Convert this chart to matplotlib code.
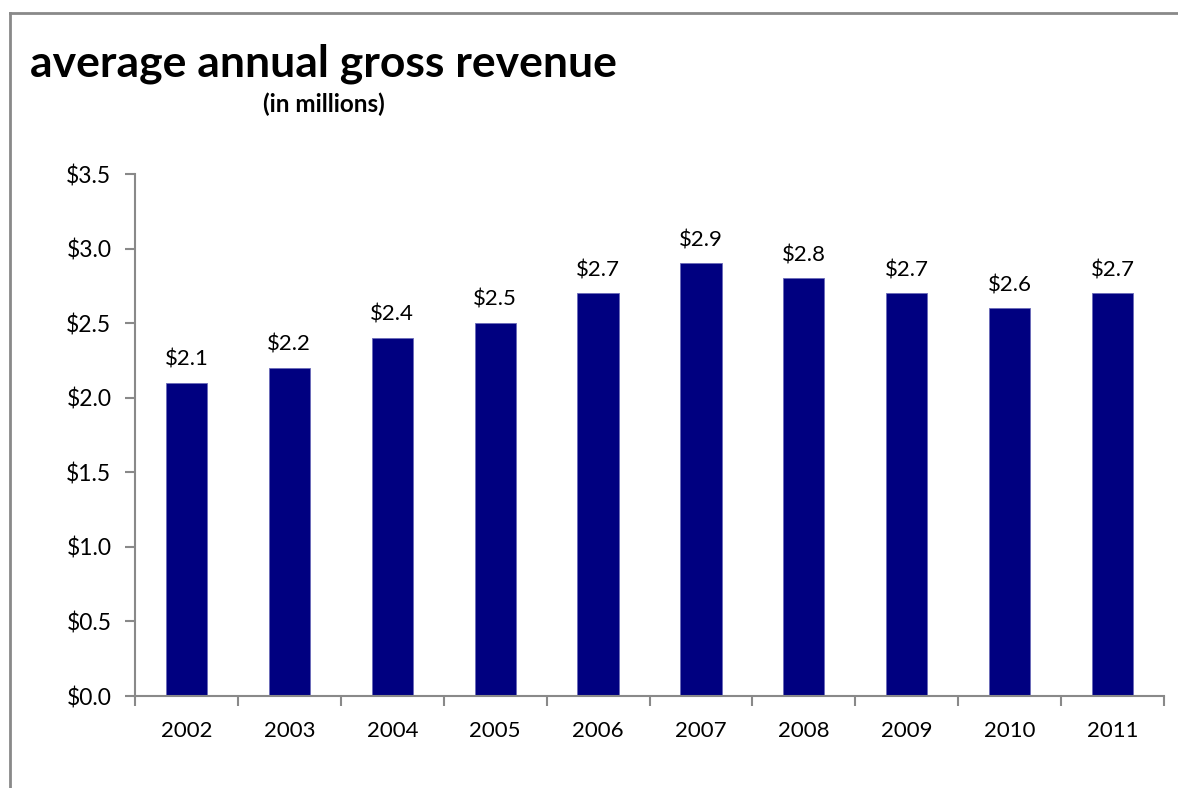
import matplotlib
matplotlib.use("Agg")
import matplotlib.pyplot as plt
from matplotlib.lines import Line2D
import numpy as np

years = ["2002", "2003", "2004", "2005", "2006", "2007", "2008", "2009", "2010", "2011"]
revenue = [2.1, 2.2, 2.4, 2.5, 2.7, 2.9, 2.8, 2.7, 2.6, 2.7]
yticks = [0.0, 0.5, 1.0, 1.5, 2.0, 2.5, 3.0, 3.5]

plt.rcParams['font.family'] = ['Lato', 'DejaVu Sans']

fig = plt.figure(figsize=(11.78, 7.88), dpi=100)
ax = fig.add_axes([135/1178, 1-696/788, (1164-135)/1178, (696-174)/788])

x = np.arange(len(years))
ax.bar(x, revenue, width=0.4, color="#000080", edgecolor="#6a6ab8", linewidth=0.6)
for xi, v in zip(x, revenue):
    ax.annotate(f"${v:.1f}", (xi, v), xytext=(0, 9.5), textcoords="offset points",
                ha="center", va="bottom", fontsize=16, color="black")

ax.set_xlim(-0.5, len(years) - 0.5)
ax.set_ylim(0, 3.5)
ax.set_yticks(yticks)
ax.set_yticklabels([f"${t:.1f}" for t in yticks], fontsize=16.5)
ax.set_xticks(x)
ax.set_xticklabels(years, fontsize=16)
ax.set_xticks(np.arange(-0.5, len(years), 1.0), minor=True)
ax.tick_params(axis="x", which="major", length=0, pad=18)
ax.tick_params(axis="x", which="minor", length=7, color="#898989", width=1.5)
ax.tick_params(axis="y", length=7, color="#898989", width=1.5, pad=10)
for s in ["top", "right"]:
    ax.spines[s].set_visible(False)
for s in ["left", "bottom"]:
    ax.spines[s].set_color("#898989")
    ax.spines[s].set_linewidth(1.5)

fig.text(30/1178, 1-64/788, "average annual gross revenue", fontsize=32, fontweight="bold",
         ha="left", va="center")
fig.text(324/1178, 1-104/788, "(in millions)", fontsize=17.5, fontweight="bold",
         ha="center", va="center")

fig.add_artist(Line2D([10/1178, 10/1178], [0, 1-12.5/788], transform=fig.transFigure,
                      color="#898989", linewidth=2))
fig.add_artist(Line2D([10/1178, 1], [1-12.5/788, 1-12.5/788], transform=fig.transFigure,
                      color="#898989", linewidth=2))

fig.savefig("out.png", dpi=100)
